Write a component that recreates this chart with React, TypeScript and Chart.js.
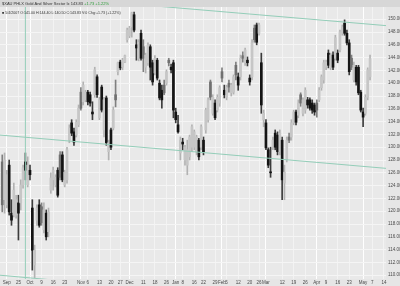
import React, { useEffect, useRef } from "react";
import { Chart, registerables } from "chart.js";

Chart.register(...registerables);

// Daily OHLC, $XAU, mid-Sep 2006 .. early May 2007 (trading-day index = array index)
const opens = [
  127.7, 121.8, 121.0, 127.2, 119.7, 119.4, 119.4, 121.3, 121.3, 124.1,
  127.7, 124.1, 126.4, 120.5, 111.6, 118.6, 121.0, 120.7, 117.1, 119.7,
  116.8, 123.3, 124.9, 124.1, 126.4, 128.8, 128.8, 124.1, 124.9, 131.1,
  133.8, 132.4, 131.9, 133.5, 138.6, 137.1, 137.4, 138.6, 138.2, 135.5,
  138.2, 141.0, 134.6, 139.4, 132.7, 137.7, 129.3, 132.7, 133.0, 138.2,
  141.8, 143.3, 142.5, 143.3, 146.8, 147.4, 148.8, 150.7, 146.0, 143.9,
  147.8, 145.7, 142.5, 143.2, 145.7, 143.2, 141.6, 143.6, 140.0, 138.9,
  139.7, 140.0, 143.6, 142.5, 143.2, 135.5, 133.5, 129.1, 130.8, 128.0,
  127.2, 128.5, 130.0, 130.0, 129.3, 131.1, 130.0, 131.1, 132.7, 134.3,
  140.2, 135.3, 136.9, 135.8, 136.9, 141.8, 138.9, 137.8, 140.0, 138.5,
  138.6, 142.8, 141.0, 141.0, 144.3, 143.2, 143.6, 140.8, 141.0, 148.6,
  149.1, 147.8, 143.2, 134.3, 133.8, 129.6, 126.1, 130.0, 132.2, 131.9,
  129.3, 131.1, 124.4, 128.0, 131.6, 131.6, 133.8, 135.5, 135.0, 138.2,
  135.3, 135.8, 137.4, 137.4, 136.9, 136.6, 136.9, 137.4, 139.3, 140.5,
  142.5, 144.7, 142.4, 144.4, 143.9, 144.7, 145.2, 147.8, 149.4, 147.8,
  146.3, 143.9, 140.5, 142.5, 142.5, 138.6, 135.5, 135.3, 137.8, 141.0,
];
const highs = [
  128.8, 129.1, 126.4, 128.0, 121.8, 124.4, 122.5, 122.5, 124.9, 127.2,
  129.1, 128.5, 127.2, 121.8, 114.7, 121.0, 121.8, 121.3, 121.3, 120.2,
  120.5, 126.0, 126.9, 125.7, 126.8, 129.3, 129.3, 126.4, 130.0, 133.5,
  134.3, 133.0, 134.3, 136.6, 139.3, 140.2, 138.9, 138.9, 138.6, 137.1,
  142.5, 141.3, 137.8, 139.7, 137.8, 138.0, 131.1, 133.0, 136.3, 140.5,
  143.3, 143.6, 143.9, 144.4, 148.6, 148.9, 151.1, 151.1, 146.8, 146.8,
  148.3, 146.8, 144.7, 146.3, 146.0, 143.6, 144.3, 143.9, 140.5, 139.7,
  140.5, 142.1, 143.9, 143.0, 143.6, 136.1, 135.0, 131.6, 131.4, 130.3,
  131.1, 131.9, 133.5, 132.7, 131.9, 131.4, 133.5, 131.6, 136.1, 137.7,
  140.5, 138.2, 137.4, 138.2, 139.6, 142.4, 139.7, 139.7, 140.5, 140.0,
  141.3, 143.3, 141.6, 144.4, 144.9, 145.5, 144.1, 141.3, 146.8, 149.1,
  149.4, 149.4, 144.7, 135.8, 134.3, 129.9, 130.0, 131.6, 132.7, 132.4,
  132.7, 131.6, 127.2, 131.6, 132.2, 134.3, 135.8, 135.8, 137.4, 138.5,
  137.7, 139.3, 137.8, 137.7, 137.4, 136.9, 137.4, 139.3, 141.3, 143.6,
  143.6, 145.2, 144.7, 144.9, 147.5, 145.2, 148.3, 149.1, 149.9, 148.3,
  146.8, 144.4, 143.3, 142.8, 142.8, 138.9, 136.1, 138.2, 142.4, 144.4,
];
const lows = [
  119.9, 119.7, 120.5, 119.4, 117.8, 119.1, 118.9, 115.5, 120.2, 123.6,
  124.9, 123.8, 124.9, 110.8, 109.6, 117.8, 117.5, 117.8, 116.6, 115.5,
  116.0, 122.8, 123.3, 123.8, 122.2, 124.9, 124.6, 123.8, 124.4, 130.7,
  131.8, 130.3, 131.6, 133.2, 135.8, 136.6, 137.1, 136.6, 136.4, 134.3,
  137.8, 137.8, 134.3, 135.5, 131.6, 130.3, 128.0, 129.6, 132.7, 136.3,
  141.3, 142.1, 142.1, 143.2, 146.4, 147.1, 147.2, 148.0, 143.6, 143.5,
  143.6, 141.8, 141.6, 142.8, 140.5, 139.7, 141.3, 140.5, 137.4, 136.1,
  138.2, 139.7, 142.7, 141.6, 134.6, 133.8, 132.2, 128.0, 129.6, 127.2,
  125.7, 128.0, 129.3, 129.6, 128.8, 128.0, 129.6, 128.8, 132.2, 133.9,
  137.4, 135.0, 134.3, 135.5, 136.4, 140.2, 137.7, 137.4, 138.6, 138.0,
  138.3, 140.5, 138.9, 140.5, 143.3, 142.8, 142.7, 139.7, 140.5, 146.4,
  146.0, 147.5, 135.3, 133.2, 129.6, 126.8, 125.3, 129.6, 129.6, 128.8,
  128.8, 121.8, 121.8, 127.7, 130.7, 131.1, 133.5, 133.5, 134.6, 136.4,
  134.9, 135.3, 136.1, 135.8, 135.3, 135.0, 134.7, 137.1, 138.9, 140.0,
  142.1, 142.4, 142.1, 142.1, 143.6, 143.2, 144.9, 147.5, 147.5, 146.0,
  141.3, 142.1, 140.2, 139.7, 138.2, 135.5, 133.2, 135.0, 137.4, 140.5,
];
const closes = [
  121.0, 128.0, 125.7, 119.9, 118.6, 123.3, 121.8, 119.7, 124.1, 126.8,
  126.4, 127.2, 125.7, 113.9, 113.9, 120.5, 117.8, 118.2, 120.2, 116.0,
  119.9, 125.2, 126.4, 125.3, 122.5, 125.3, 124.9, 126.1, 129.6, 133.0,
  132.2, 130.8, 133.9, 136.1, 136.1, 139.7, 138.6, 137.1, 136.9, 135.2,
  142.1, 138.2, 137.4, 135.8, 137.4, 130.7, 130.7, 130.0, 135.8, 137.4,
  143.2, 142.4, 143.6, 144.3, 148.3, 148.6, 151.0, 148.3, 145.5, 146.4,
  143.9, 143.9, 144.4, 146.0, 142.5, 140.2, 143.9, 140.8, 137.7, 137.4,
  138.5, 141.8, 143.2, 142.1, 135.8, 134.3, 132.4, 131.1, 130.5, 130.0,
  129.6, 131.6, 133.2, 132.4, 131.6, 128.5, 133.2, 129.3, 135.8, 137.4,
  137.8, 137.8, 134.6, 137.8, 139.3, 140.8, 138.2, 139.4, 139.4, 139.7,
  141.0, 141.3, 139.7, 143.9, 143.9, 145.2, 143.2, 140.2, 146.3, 146.8,
  146.4, 149.1, 136.6, 135.3, 129.9, 127.2, 126.0, 131.1, 130.0, 129.3,
  132.2, 124.9, 126.1, 131.1, 131.1, 133.8, 135.5, 133.9, 136.9, 136.9,
  137.4, 138.9, 136.6, 136.1, 135.8, 135.5, 135.8, 138.9, 141.0, 143.2,
  143.3, 142.8, 144.4, 142.5, 147.1, 143.6, 148.0, 148.8, 147.8, 146.3,
  141.8, 142.5, 142.8, 140.2, 138.5, 135.8, 134.7, 137.8, 142.1, 143.83,
];

// x-axis ticks (trading-day index) and their labels
const tickIdx = [2, 7, 12, 17, 22, 27, 34, 37, 42, 47, 51, 55, 61, 66, 71, 75, 78, 83, 87, 92, 95, 97, 102, 107, 111, 114, 121, 126, 131, 136, 140, 145, 150, 156, 160, 165];
const tickLabels = ["Sep", "25", "Oct", "9", "16", "23", "Nov", "6", "13", "20", "27", "Dec", "11", "18", "26", "Jan", "8", "16", "22", "29", "Feb", "5", "12", "20", "26", "Mar", "12", "19", "26", "Apr", "9", "16", "23", "May", "7", "14"];

// trend channel lines (trading-day index, price)
const channelUpper = [{ x: 42.3, y: 152.8 }, { x: 165.9, y: 149.0 }];
const channelMiddle = [{ x: -0.97, y: 131.9 }, { x: 165.9, y: 126.7 }];
const channelLower = [{ x: -0.97, y: 110.0 }, { x: 30, y: 109.0 }];
const markerDay = 10;

const symbolName = "$XAU PHLX Gold And Silver Sector Ix";
const lastPrice = "143.83";
const changeText = "+1.73 +1.22%";
const barInfo = "■ 5/4/2007 O:141.00 H:144.40 L:140.50 C:143.83 V:0 Chg:+1.73 (+1.22%)";

const X_MIN = -0.97;
const X_MAX = 165.9;
const Y_MIN = 109.41;
const Y_MAX = 151.91;

const TEAL = "#93cdb8";
const FONT = '"Liberation Sans", Arial, sans-serif';

export default function App() {
  const ref = useRef<HTMLCanvasElement>(null);

  useEffect(() => {
    document.body.style.margin = "0";
    document.body.style.background = "#e6e6e6";
    const idx = closes.map((_, i) => i);
    const filled = (i: number) => closes[i] < opens[i];
    const downFromPrev = (i: number) => i > 0 && closes[i] < closes[i - 1];
    const bodyColor = (i: number) =>
      filled(i) ? (downFromPrev(i) ? "#141414" : "#707070") : "#c6c6c6";
    const wickColor = (i: number) =>
      filled(i) ? (downFromPrev(i) ? "#3c3c3c" : "#808080") : "#b2b2b2";

    const bgPlugin = {
      id: "bg",
      beforeDraw(chart: any) {
        const { ctx, chartArea: a, width } = chart;
        ctx.save();
        ctx.fillStyle = "#e6e6e6";
        ctx.fillRect(0, 0, width, chart.height);
        ctx.fillStyle = "#d7d7d7";
        ctx.fillRect(0, 0, width, a.top);
        ctx.fillStyle = "#e9e9e9";
        ctx.fillRect(a.left, a.top, a.right - a.left, a.bottom - a.top);
        ctx.restore();
      },
    };

    const lineDs = (data: { x: number; y: number }[]) => ({
      type: "line" as const,
      data,
      borderColor: TEAL,
      borderWidth: 1,
      pointRadius: 0,
      fill: false,
    });

    const chart = new Chart(ref.current as HTMLCanvasElement, {
      type: "bar",
      data: {
        datasets: [
          lineDs(channelUpper),
          lineDs(channelMiddle),
          lineDs(channelLower),
          lineDs([{ x: markerDay, y: Y_MIN - 5 }, { x: markerDay, y: Y_MAX + 5 }]),
          {
            type: "bar",
            data: idx.map((i) => ({ x: i, y: [Math.min(opens[i], closes[i]), Math.max(opens[i], closes[i])] })),
            backgroundColor: idx.map(bodyColor),
            barThickness: 2,
            minBarLength: 1,
            grouped: false,
          } as any,
          {
            type: "bar",
            data: idx.map((i) => ({ x: i, y: [lows[i], highs[i]] })),
            backgroundColor: idx.map(wickColor),
            barThickness: 1,
            grouped: false,
          } as any,
        ],
      },
      options: {
        animation: false,
        responsive: false,
        maintainAspectRatio: false,
        devicePixelRatio: 1,
        layout: { padding: { top: 7, left: 0, right: 0, bottom: 0 } },
        plugins: { legend: { display: false }, tooltip: { enabled: false } },
        scales: {
          x: {
            type: "linear",
            min: X_MIN,
            max: X_MAX,
            offset: false,
            border: { display: false },
            grid: {
              offset: false,
              drawTicks: false,
              lineWidth: 1,
              color: (ctx: any) => {
                const lab = tickLabels[ctx.index];
                return lab && isNaN(Number(lab)) ? "#ffffff" : "#f3f3f3";
              },
            },
            ticks: {
              autoSkip: false,
              maxRotation: 0,
              minRotation: 0,
              padding: 1,
              color: "#4a4a4a",
              font: { size: 4.5, family: FONT },
              callback: (_v: any, i: number) => tickLabels[i] ?? "",
            },
            afterBuildTicks: (s: any) => {
              s.ticks = tickIdx.map((v) => ({ value: v }));
            },
            afterFit: (s: any) => {
              s.height = 7;
            },
          },
          y: {
            type: "linear",
            position: "right",
            min: Y_MIN,
            max: Y_MAX,
            beginAtZero: false,
            border: { display: false },
            grid: { color: "#f5f5f5", drawTicks: false, lineWidth: 1 },
            ticks: {
              stepSize: 1,
              includeBounds: false,
              padding: 2,
              color: "#4a4a4a",
              font: { size: 4.5, family: FONT },
              callback: (v: any) => Number(v).toFixed(2),
            },
            afterFit: (s: any) => {
              s.width = 14;
            },
          },
        },
      } as any,
      plugins: [bgPlugin],
    });
    return () => chart.destroy();
  }, []);

  return (
    <div style={{ position: "relative", width: 400, height: 286, fontFamily: FONT }}>
      <canvas ref={ref} width={400} height={286} style={{ display: "block", width: 400, height: 286 }} />
      <div
        style={{
          position: "absolute",
          left: 2,
          top: 1,
          fontSize: 4,
          lineHeight: "5px",
          color: "#333",
          whiteSpace: "nowrap",
        }}
      >
        {symbolName} {lastPrice} <span style={{ color: "#2e9e3a" }}>{changeText}</span>
      </div>
      <div
        style={{
          position: "absolute",
          left: 2,
          top: 11,
          fontSize: 3.6,
          lineHeight: "5px",
          color: "#333",
          whiteSpace: "nowrap",
        }}
      >
        {barInfo}
      </div>
    </div>
  );
}
